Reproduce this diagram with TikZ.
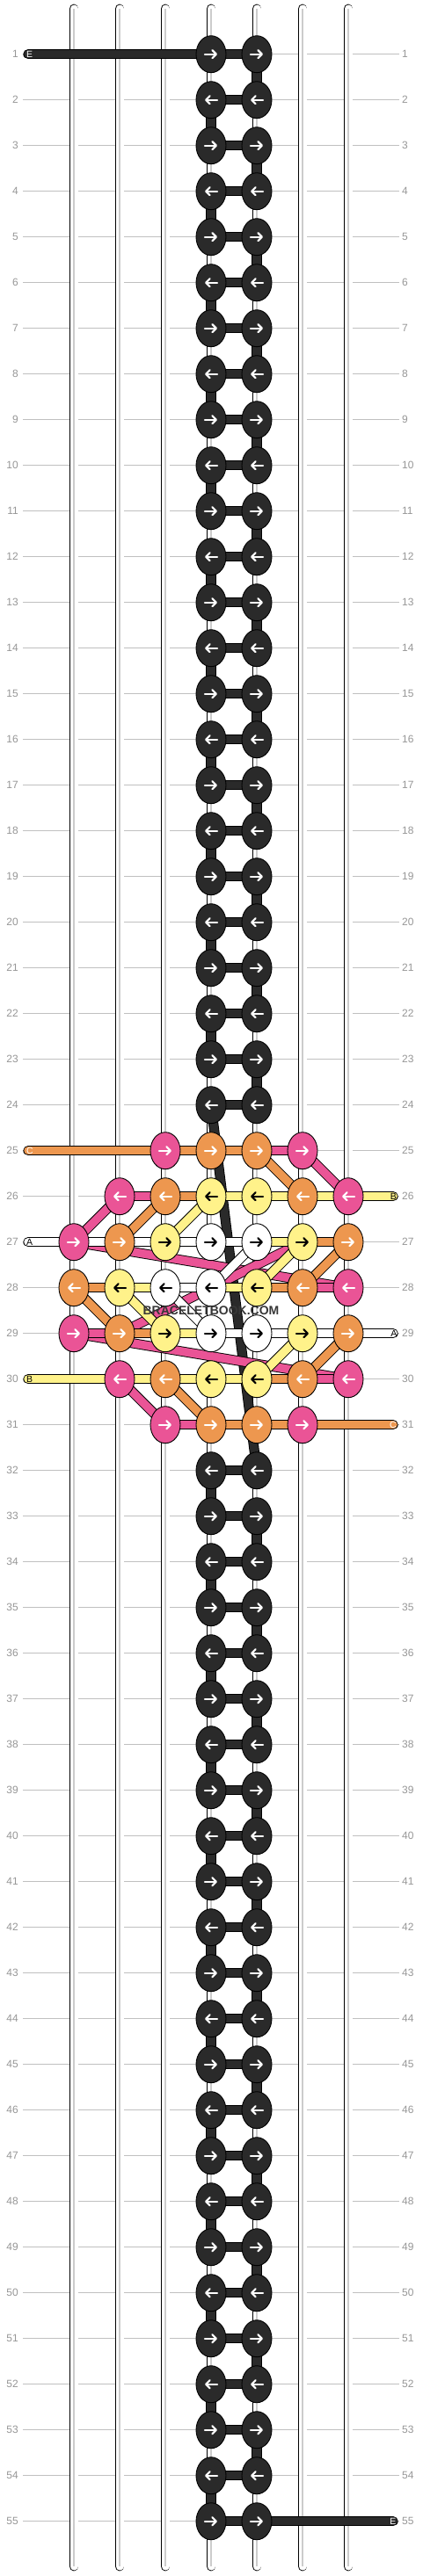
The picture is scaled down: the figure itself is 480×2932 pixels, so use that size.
\documentclass[tikz,border=0pt]{standalone}
\usepackage{fontspec}
\setmainfont{Liberation Sans}
\usetikzlibrary{arrows.meta,shapes.geometric}

\definecolor{kdark}{RGB}{42,42,42}
\definecolor{kpink}{RGB}{234,84,150}
\definecolor{korange}{RGB}{237,151,79}
\definecolor{kyellow}{RGB}{255,242,138}
\definecolor{rowgray}{RGB}{192,192,192}
\definecolor{numgray}{RGB}{150,150,150}
\definecolor{wmgray}{RGB}{55,55,55}

\pgfdeclarelayer{grid}
\pgfdeclarelayer{threads}
\pgfsetlayers{grid,threads,main}

\tikzstyle{knot}=[ellipse, draw=black, line width=0.9pt, minimum width=34pt, minimum height=42pt, inner sep=0pt]
\tikzstyle{arrowline}=[line width=2.2pt, line cap=round, -{Straight Barb[length=4.5pt,width=9pt,round]}]
\tikzstyle{thread}=[draw=black, line width=0.9pt, double distance=9.5pt]
\tikzstyle{strand}=[draw=black, line width=0.9pt, double=white, double distance=9pt, line cap=round]
\tikzstyle{rowline}=[draw=rowgray, line width=0.8pt]
\tikzstyle{rownum}=[text=numgray, font=\fontsize{12}{12}\selectfont, inner sep=0pt]
\tikzstyle{endlbl}=[font=\fontsize{10.5}{10.5}\selectfont, inner sep=0pt]

% knot: row, column, fill, arrow colour (odd rows go right, even rows go left)
\newcommand{\knotat}[4]{%
  \pgfmathtruncatemacro\kdir{2*mod(#1,2)-1}%
  \node[knot, fill=#3] (k#1-#2) at ({84+52*#2},{61.7+52*(#1-1)}) {};
  \draw[arrowline, #4] ([xshift={-7*\kdir}]k#1-#2.center) -- ([xshift={7*\kdir}]k#1-#2.center);
}

\begin{document}
\begin{tikzpicture}[x=1pt, y=-1pt]
\useasboundingbox (0,0) rectangle (480,2932);

% plain rows of the dark thread
\foreach \a/\b in {1/24,32/55}
  \foreach \r in {\a,...,\b} {
    \knotat{\r}{3}{kdark}{white}
    \knotat{\r}{4}{kdark}{white}
  }

% the pattern
\foreach \c/\f/\w in {2/kpink/white,3/korange/white,4/korange/white,5/kpink/white}
  {\knotat{25}{\c}{\f}{\w}}
\foreach \c/\f/\w in {1/kpink/white,2/korange/white,3/kyellow/black,4/kyellow/black,5/korange/white,6/kpink/white}
  {\knotat{26}{\c}{\f}{\w}}
\foreach \c/\f/\w in {0/kpink/white,1/korange/white,2/kyellow/black,3/white/black,4/white/black,5/kyellow/black,6/korange/white}
  {\knotat{27}{\c}{\f}{\w}}
\foreach \c/\f/\w in {0/korange/white,1/kyellow/black,2/white/black,3/white/black,4/kyellow/black,5/korange/white,6/kpink/white}
  {\knotat{28}{\c}{\f}{\w}}
\foreach \c/\f/\w in {0/kpink/white,1/korange/white,2/kyellow/black,3/white/black,4/white/black,5/kyellow/black,6/korange/white}
  {\knotat{29}{\c}{\f}{\w}}
\foreach \c/\f/\w in {1/kpink/white,2/korange/white,3/kyellow/black,4/kyellow/black,5/korange/white,6/kpink/white}
  {\knotat{30}{\c}{\f}{\w}}
\foreach \c/\f/\w in {2/kpink/white,3/korange/white,4/korange/white,5/kpink/white}
  {\knotat{31}{\c}{\f}{\w}}

% loose ends
\foreach \r/\n in {1/e1l,25/e25l,27/e27l,30/e30l}
  \coordinate (\n) at (32,{61.7+52*(\r-1)});
\foreach \r/\n in {26/e26r,29/e29r,31/e31r,55/e55r}
  \coordinate (\n) at (447,{61.7+52*(\r-1)});

\node[endlbl, anchor=west, text=white] (l1) at (30,61.7) {E};
\node[endlbl, anchor=west, text=white] (l25) at (30,1309.7) {C};
\node[endlbl, anchor=west, text=black] (l27) at (30,1413.7) {A};
\node[endlbl, anchor=west, text=black] (l30) at (30,1569.7) {B};
\node[endlbl, anchor=east, text=black] (r26) at (451,1361.7) {B};
\node[endlbl, anchor=east, text=black] (r29) at (451.5,1517.7) {A};
\node[endlbl, anchor=east, text=white] (r31) at (451,1621.7) {C};
\node[endlbl, anchor=east, text=white] (r55) at (450.5,2869.7) {E};

\node[font=\bfseries\fontsize{14}{14}\selectfont, text=wmgray, inner sep=0pt] (wm) at (240,1492) {BRACELETBOOK.COM};

\begin{pgfonlayer}{grid}
  \foreach \r in {1,...,55} {
    \draw[rowline] (26,{61.7+52*(\r-1)}) -- (454,{61.7+52*(\r-1)});
    \node[rownum, anchor=east] (nl\r) at (21,{61.7+52*(\r-1)}) {\r};
    \node[rownum, anchor=west] (nr\r) at (457,{61.7+52*(\r-1)}) {\r};
  }
  \foreach \c in {0,...,6} {
    \draw[strand] ({84+52*\c},10) -- ({84+52*\c},2921);
    \draw[gray!40, line width=1.1pt] ({84+52*\c},10) -- ({84+52*\c},2921);
  }
\end{pgfonlayer}

\begin{pgfonlayer}{threads}
  % dark thread
  \draw[thread, double=kdark, line cap=round] (e1l) -- (k1-3.center);
  \foreach \a/\b in {1/24,32/55}
    \foreach \r in {\a,...,\b}
      \draw[thread, double=kdark] (k\r-3.center) -- (k\r-4.center);
  \foreach \a/\b in {1/23,32/54}
    \foreach \r in {\a,...,\b} {
      \pgfmathtruncatemacro\s{\r+1}
      \pgfmathtruncatemacro\c{3+mod(\r,2)}
      \draw[thread, double=kdark] (k\r-\c.center) -- (k\s-\c.center);
    }
  \draw[thread, double=kdark] (k24-3.center) -- (k32-4.center);
  \draw[thread, double=kdark, line cap=round] (k55-4.center) -- (e55r);

  % long pink runs
  \foreach \p/\q in {27-0/28-6,29-1/27-5,29-0/30-6}
    \draw[thread, double=kpink] (k\p.center) -- (k\q.center);

  % diagonals
  \foreach \p/\q/\f in {25-4/26-5/korange,25-5/26-6/kpink,
      26-1/27-0/kpink,26-2/27-1/korange,26-3/27-2/kyellow,
      27-4/28-3/white,27-5/28-4/kyellow,27-6/28-5/korange,
      28-0/29-1/korange,28-1/29-2/kyellow,28-2/29-3/white,
      29-5/30-4/kyellow,29-6/30-5/korange,
      30-1/31-2/kpink,30-2/31-3/korange}
    \draw[thread, double=\f] (k\p.center) -- (k\q.center);

  % rows
  \foreach \p/\q/\f in {25-2/25-3/korange,25-3/25-4/korange,25-4/25-5/kpink,
      26-1/26-2/kpink,26-2/26-3/korange,26-3/26-4/kyellow,26-4/26-5/kyellow,26-5/26-6/kyellow,
      27-0/27-1/white,27-1/27-2/white,27-2/27-3/white,27-3/27-4/white,27-4/27-5/kyellow,27-5/27-6/korange,
      28-0/28-1/korange,28-1/28-2/kyellow,28-2/28-3/white,28-3/28-4/kyellow,28-4/28-5/korange,28-5/28-6/kpink,
      29-0/29-1/kpink,29-1/29-2/korange,29-2/29-3/kyellow,29-3/29-4/white,29-4/29-5/white,29-5/29-6/white,
      30-1/30-2/kyellow,30-2/30-3/kyellow,30-3/30-4/kyellow,30-4/30-5/korange,30-5/30-6/kpink,
      31-2/31-3/kpink,31-3/31-4/korange,31-4/31-5/korange}
    \draw[thread, double=\f] (k\p.center) -- (k\q.center);

  \draw[thread, double=korange, line cap=round] (e25l) -- (k25-2.center);
  \draw[thread, double=kyellow, line cap=round] (k26-6.center) -- (e26r);
  \draw[thread, double=white, line cap=round] (e27l) -- (k27-0.center);
  \draw[thread, double=white, line cap=round] (k29-6.center) -- (e29r);
  \draw[thread, double=kyellow, line cap=round] (e30l) -- (k30-1.center);
  \draw[thread, double=korange, line cap=round] (k31-5.center) -- (e31r);
\end{pgfonlayer}
\end{tikzpicture}
\end{document}
